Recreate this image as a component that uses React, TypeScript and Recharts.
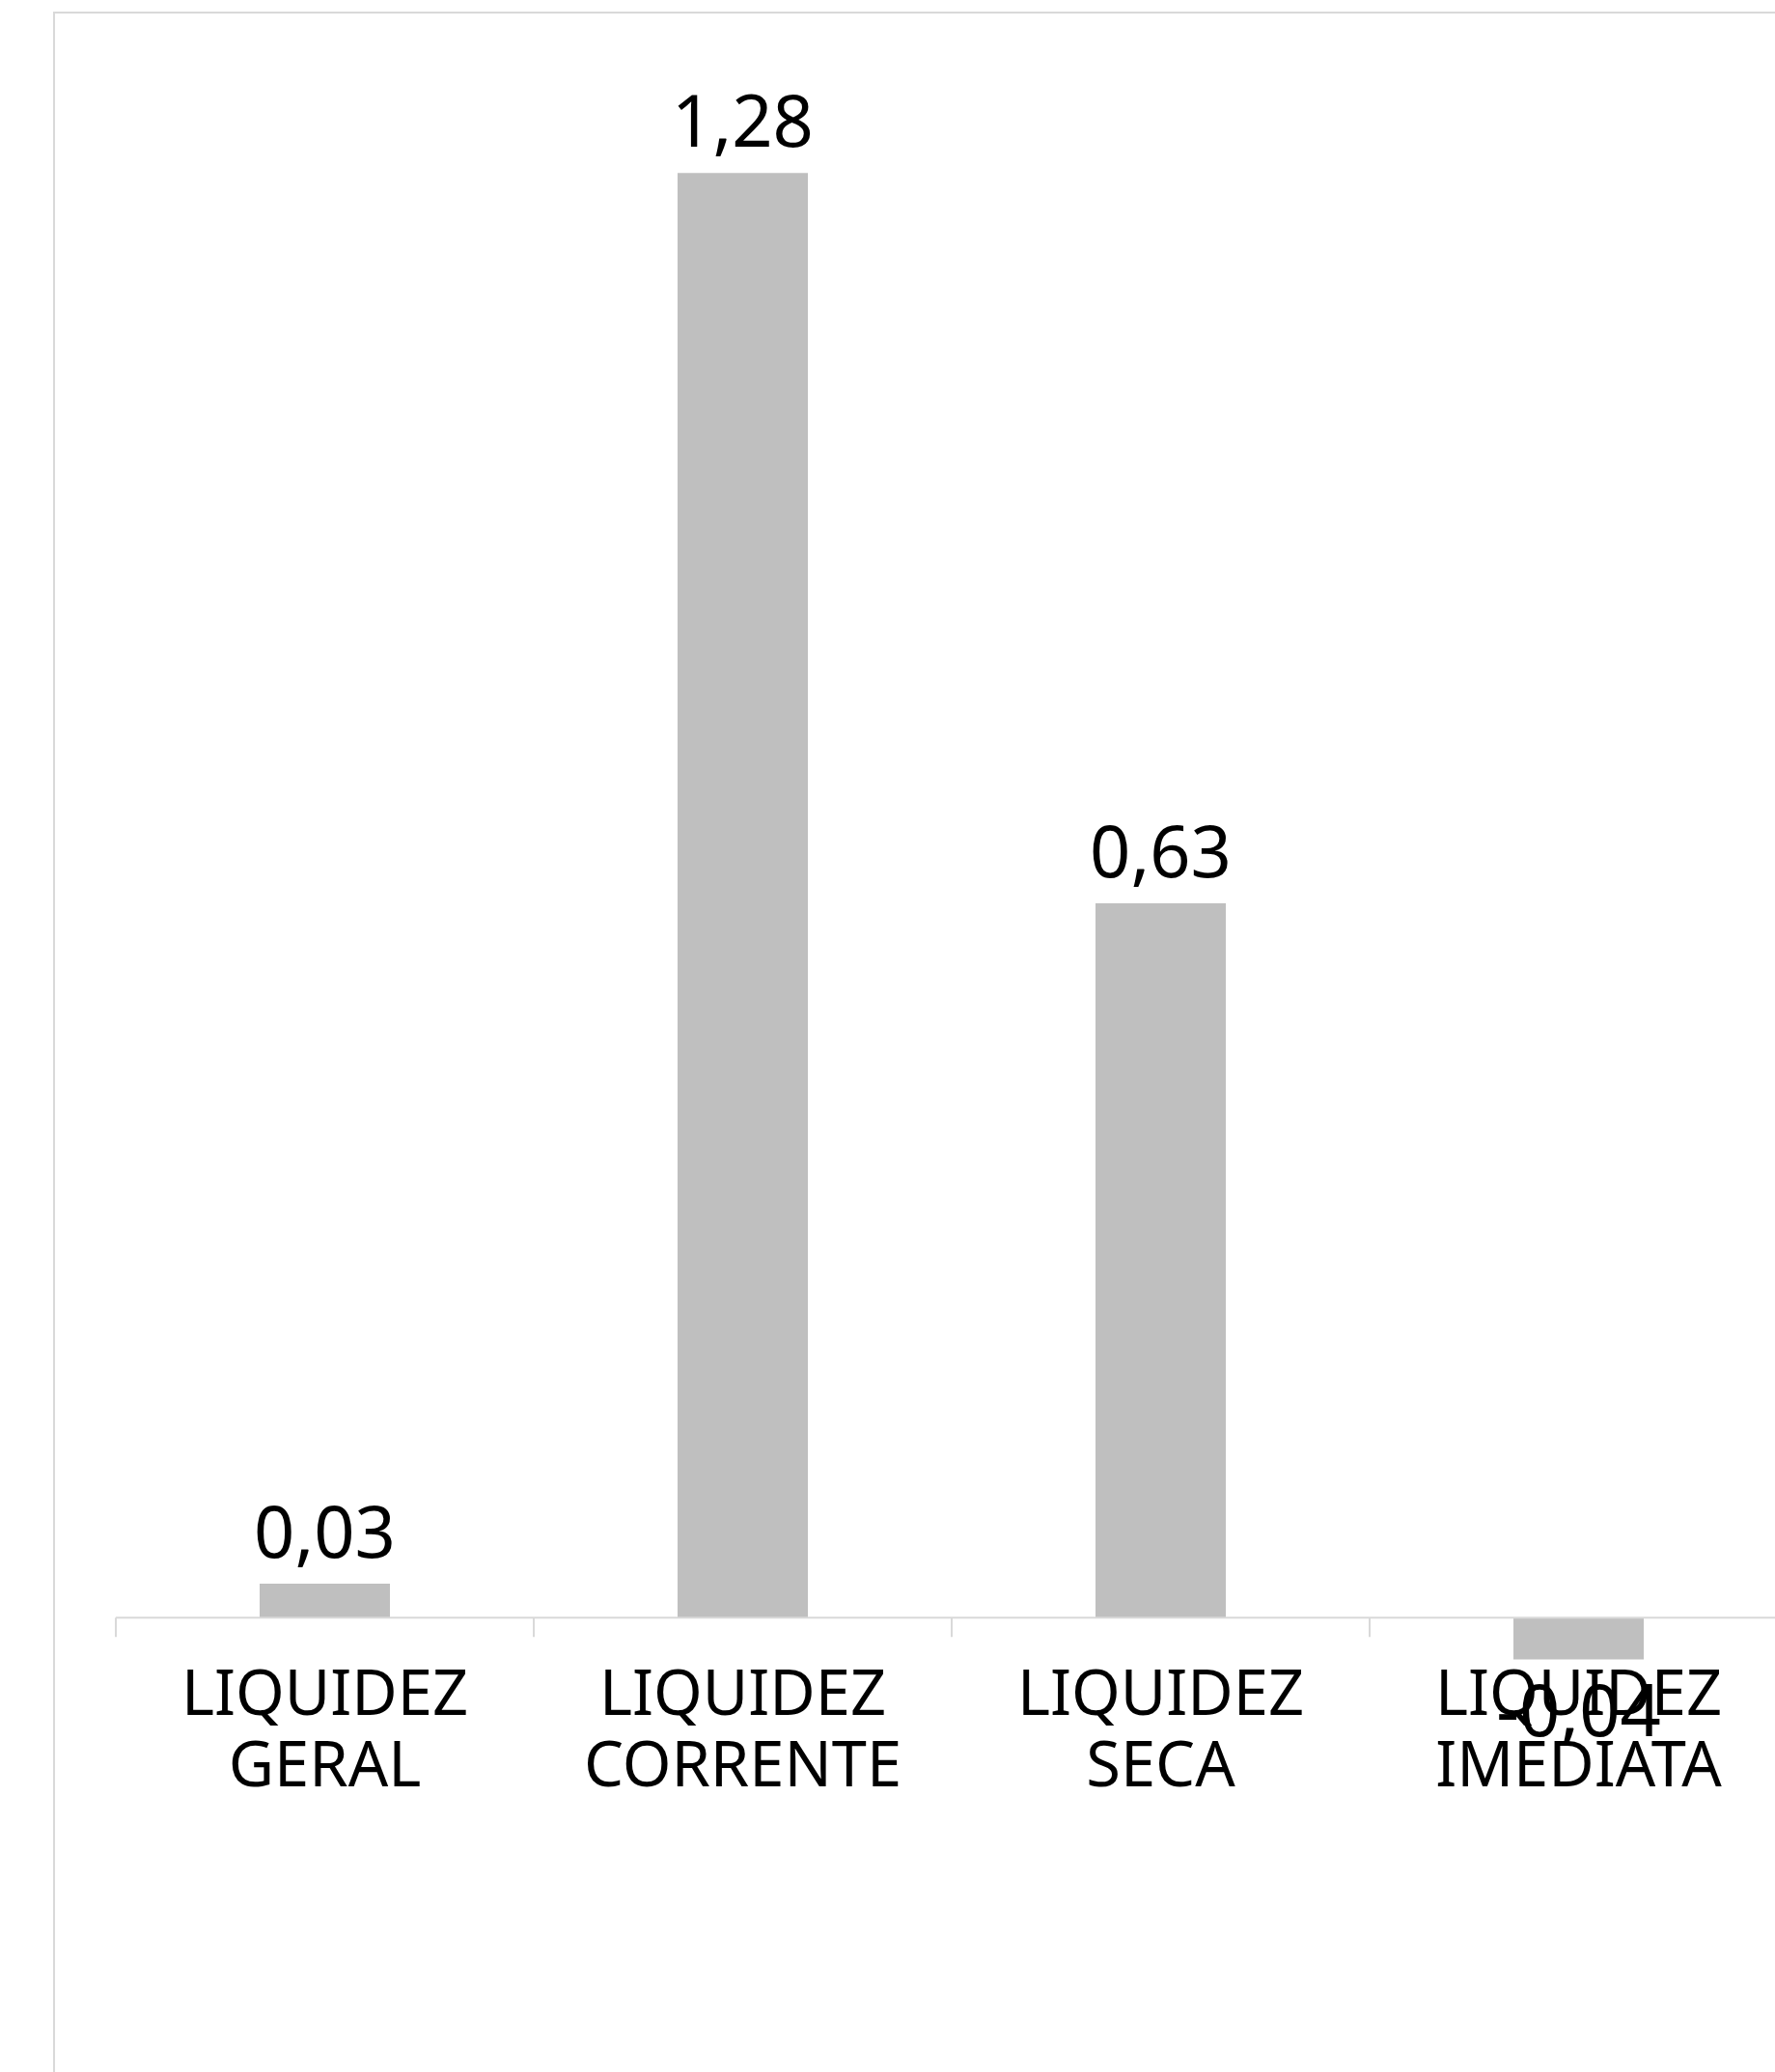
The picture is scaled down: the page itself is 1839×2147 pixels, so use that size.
import { BarChart, Bar, XAxis, YAxis, ReferenceLine, LabelList } from "recharts";

const categories = [
  "LIQUIDEZ GERAL",
  "LIQUIDEZ CORRENTE",
  "LIQUIDEZ SECA",
  "LIQUIDEZ IMEDIATA",
];
// labels round them to two places
const values = [0.03, 1.28, 0.633, -0.037];
const yDomain = [-0.2, 1.4];

const data = categories.map((name, i) => ({ name, value: values[i] }));

const CHART_W = 1840;
const CHART_H = 1926;
const MARGIN = { top: 25, right: 45, left: 63, bottom: 0 };
const X_AXIS_H = 30;
const PLOT_W = CHART_W - MARGIN.left - MARGIN.right;
const PLOT_H = CHART_H - MARGIN.top - MARGIN.bottom - X_AXIS_H;
// where the value 0 sits, from the same domain the y axis uses
const ZERO_Y =
  MARGIN.top + (PLOT_H * yDomain[1]) / (yDomain[1] - yDomain[0]);
const BAND = PLOT_W / categories.length;

const fmt = (v: number) => Number(v).toFixed(2).replace(".", ",");

function CategoryTick({ x, payload }: any) {
  const lines = String(payload.value).split(" ");
  return (
    <g>
      <line
        x1={x - BAND / 2}
        x2={x - BAND / 2}
        y1={ZERO_Y}
        y2={ZERO_Y + 20}
        stroke="#d9d9d9"
        strokeWidth={2}
      />
      <text x={x} y={ZERO_Y + 101} textAnchor="middle" fontSize={65} fill="#000">
        {lines.map((l, i) => (
          <tspan key={i} x={x} dy={i === 0 ? 0 : 74}>
            {l}
          </tspan>
        ))}
      </text>
    </g>
  );
}

export default function App() {
  return (
    <div
      style={{
        position: "fixed",
        top: 0,
        left: 0,
        width: 1839,
        height: 2147,
        overflow: "hidden",
        background: "#fff",
        fontFamily: "'Noto Sans', sans-serif",
      }}
    >
      <div
        style={{
          position: "absolute",
          left: 55,
          top: 12,
          width: 1900,
          height: 2300,
          border: "2px solid #d9d9d9",
          background: "#fff",
        }}
      >
        <BarChart width={CHART_W} height={CHART_H} data={data} margin={MARGIN}>
          <YAxis hide domain={yDomain} />
          <XAxis
            dataKey="name"
            height={X_AXIS_H}
            axisLine={false}
            tickLine={false}
            interval={0}
            tick={<CategoryTick />}
          />
          <ReferenceLine y={0} stroke="#d9d9d9" strokeWidth={2} />
          <Bar dataKey="value" fill="#bfbfbf" barSize={135} isAnimationActive={false}>
            <LabelList
              dataKey="value"
              position="top"
              offset={27}
              fill="#000"
              fontSize={74}
              formatter={fmt}
            />
          </Bar>
        </BarChart>
      </div>
    </div>
  );
}
